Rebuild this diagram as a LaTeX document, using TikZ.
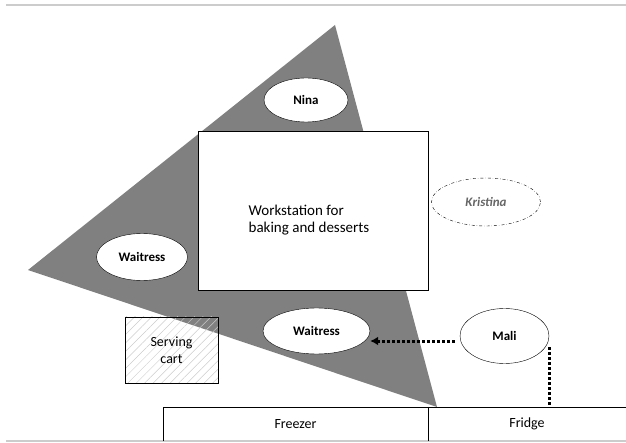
\documentclass[tikz,border=0pt]{standalone}
\usepackage{fontspec}
\setmainfont{Carlito}
\usetikzlibrary{shapes.geometric,positioning,arrows.meta,patterns.meta}
\tikzset{
  person/.style={ellipse,draw,fill=white,inner sep=0pt,font=\fontsize{13}{15}\selectfont\bfseries},
  absent/.style={ellipse,draw,dash dot,inner sep=0pt,font=\fontsize{13}{15}\selectfont\bfseries\itshape,text=black!60},
  bench/.style={rectangle,inner sep=0pt,minimum height=34pt},
  walk/.style={line width=3pt,dotted}
}
\begin{document}
\begin{tikzpicture}[x=1pt,y=-1pt,font=\fontsize{14}{16.5}\selectfont]
    \useasboundingbox (0,0) rectangle (626,443);
    \draw[black!20,line width=1.2pt] (6,5) -- (626,5);
    \draw[black!20,line width=2pt] (6,441) -- (626,441);

    % working area
    \fill[black!50] (335,25) -- (28,270) -- (437,407) -- cycle;

    \node[draw,fill=white,minimum width=230pt,minimum height=159pt] (work) at (313,210.5) {};
    \node[align=left,font=\fontsize{15}{17}\selectfont] (worktext) at ([xshift=-4pt,yshift=-10pt]work.center) {Workstation for\\baking and desserts};
    \node[draw,pattern={Lines[angle=45,distance=6pt,line width=0.5pt]},pattern color=black!20,minimum width=93pt,minimum height=66pt] (cart) at (171.5,350) {};
    \node[align=center] (carttext) at (cart) {Serving\\cart};

    \node[person,minimum width=84pt,minimum height=44pt] (nina) at (306,100) {Nina};
    \node[person,minimum width=91pt,minimum height=47pt] (waitl) at (142,257) {Waitress};
    \node[person,minimum width=107pt,minimum height=46pt] (waitb) at (316.5,331) {Waitress};
    \node[absent,minimum width=109pt,minimum height=48pt] (kristina) at (486,202) {Kristina};
    \node[person,minimum width=89pt,minimum height=55pt] (mali) at (504.5,336) {Mali};

    \node[bench,minimum width=265pt] (freezer) at (295.5,424) {Freezer};
    \node[bench,minimum width=198pt] (fridge) at (527,424) {Fridge};
    \draw (freezer.south west) |- (fridge.north east);
    \draw (freezer.north east) -- (freezer.south east);

    \coordinate (fr) at (mali.east |- fridge.north);
    \draw[walk,-{Latex[length=8pt,width=9pt]}] ([xshift=-5pt,yshift=-5pt]mali.west) -- (waitb.east |- 0,341);
    \draw[walk] ([yshift=-11pt]mali.east) -- (fr);
\end{tikzpicture}
\end{document}
